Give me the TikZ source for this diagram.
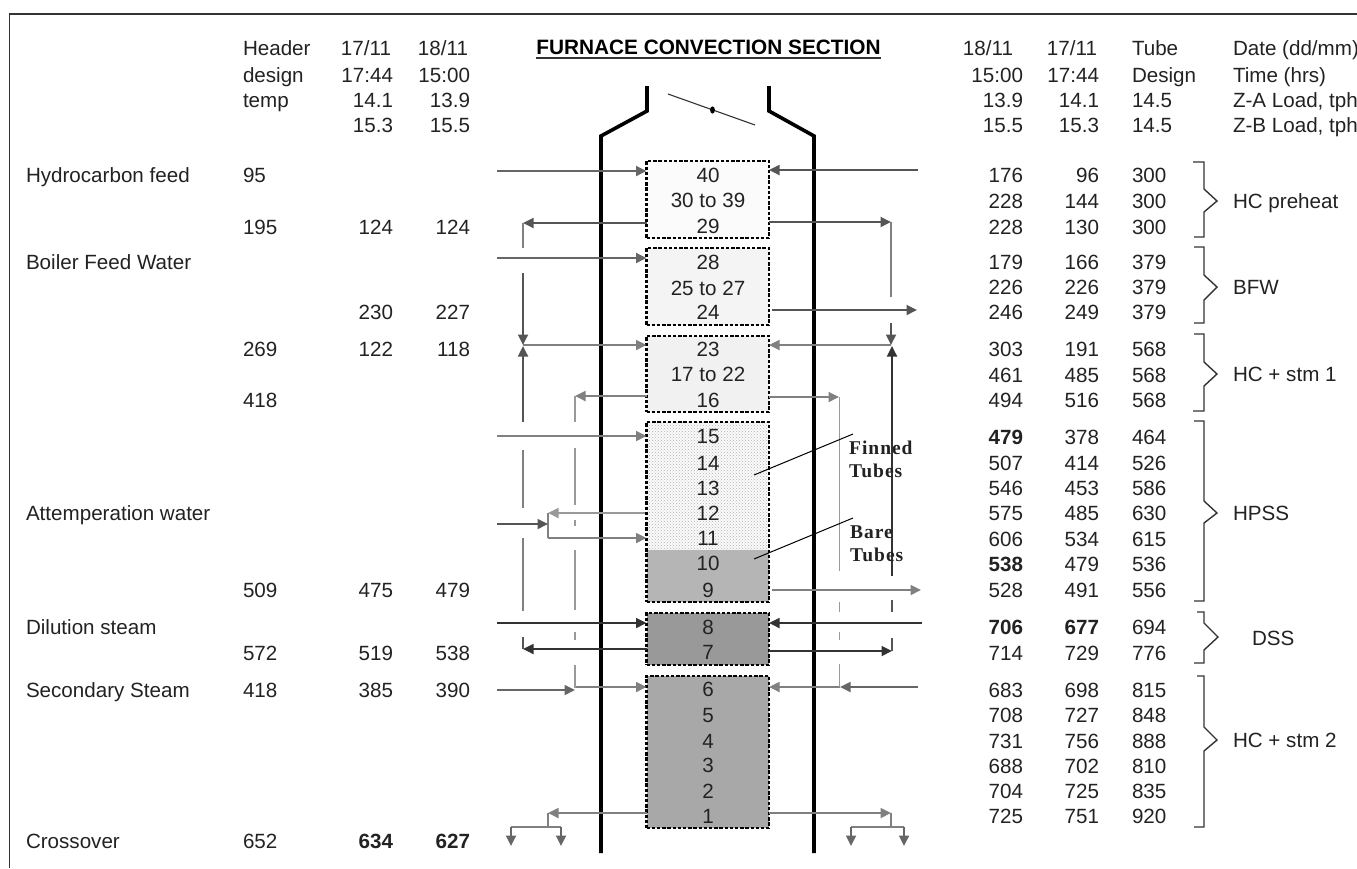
\documentclass[tikz,border=0pt]{standalone}
\usepackage{fontspec}
\setmainfont{Liberation Sans}
\newfontfamily\tubefont[LetterSpace=5]{Liberation Serif}
\usetikzlibrary{arrows.meta,patterns}
\definecolor{txt}{HTML}{222222}
\definecolor{gA}{HTML}{666666}
\definecolor{gB}{HTML}{555555}
\definecolor{gD}{HTML}{333333}
\definecolor{gL}{HTML}{808080}
\definecolor{gV}{HTML}{999999}
\tikzset{
  lbl/.style={font=\fontsize{20.6pt}{22pt}\selectfont,text=txt,inner sep=0pt,outer sep=0pt,yshift=-7.3pt},
  tl/.style={lbl,anchor=base west},
  tr/.style={lbl,anchor=base east},
  tc/.style={lbl,anchor=base},
  tubebox/.style={draw=black,line width=2.1pt,dash pattern=on 3.4pt off 1.8pt,minimum width=122.5pt,inner sep=0pt,outer sep=0pt},
  flow/.style={-{Triangle[length=10.5pt,width=10pt]},line width=1.8pt},
  pipe/.style={line width=1.8pt},
  wall/.style={line width=3.6pt,black,line join=miter},
  brc/.style={line width=1.4pt,draw=gD},
  note/.style={font=\tubefont\bfseries\fontsize{19.5pt}{20pt}\selectfont,text=txt,inner sep=0pt,anchor=base west,yshift=-6pt},
  leader/.style={line width=1pt,black}
}
\begin{document}
\begin{tikzpicture}[x=1pt,y=-1pt]
\useasboundingbox (0,0) rectangle (1357,868);
\clip (0,0) rectangle (1357,868);
% frame
\draw[line width=1.2pt,gD] (9.5,868) -- (9.5,14) -- (1357,14);
% title
\node[tc,font=\bfseries\fontsize{20.8pt}{22pt}\selectfont,text=black] (title) at (708.5,47) {FURNACE CONVECTION SECTION};
\draw[line width=2pt,gD] ([yshift=-4pt]title.base west) -- ([yshift=-4pt]title.base east);
% left labels
\foreach \y/\t in {175/Hydrocarbon feed,262/Boiler Feed Water,513/Attemperation water,627/Dilution steam,690/Secondary Steam,841/Crossover}
  \node[tl] (lab\y) at (26,\y) {\t};
% header column
\foreach \y/\t in {48/Header,75/design,100/temp,175/95,227/195,349/269,400/418,590/509,653/572,690/418,841/652}
  \node[tl] (hd\y) at (243,\y) {\t};
% left data columns
\node[tr] (la48) at (391,48) {17/11};
\node[tr] (lb48) at (468,48) {18/11};
\foreach \y/\a/\b in {75/17:44/15:00,100/14.1/13.9,125/15.3/15.5,227/124/124,312/230/227,349/122/118,590/475/479,653/519/538,690/385/390,841/{\bfseries 634}/{\bfseries 627}}{
  \node[tr] (la\y) at (393,\y) {\a};
  \node[tr] (lb\y) at (470,\y) {\b};
}
% right column heads
\node[tr] (ra48) at (1013,48) {18/11};
\node[tr] (rb48) at (1097,48) {17/11};
\node[tl] (rc48) at (1132,48) {Tube};
\node[tl] (rd48) at (1233,48) {Date (dd/mm)};
\node[tr] (ra75) at (1023,75) {15:00};
\node[tr] (rb75) at (1099,75) {17:44};
\node[tl] (rc75) at (1132,75) {Design};
\node[tl] (rd75) at (1233,75) {Time (hrs)};
\node[tr] (ra100) at (1023,100) {13.9};
\node[tr] (rb100) at (1099,100) {14.1};
\node[tl] (rc100) at (1132,100) {14.5};
\node[tl] (rd100) at (1233,100) {Z-A Load, tph};
\node[tr] (ra125) at (1023,125) {15.5};
\node[tr] (rb125) at (1099,125) {15.3};
\node[tl] (rc125) at (1132,125) {14.5};
\node[tl] (rd125) at (1233,125) {Z-B Load, tph};
% right data
\foreach \y/\a/\b/\c in {175/176/96/300,201/228/144/300,227/228/130/300,262/179/166/379,287/226/226/379,312/246/249/379,349/303/191/568,375/461/485/568,400/494/516/568,437/{\bfseries 479}/378/464,463/507/414/526,488/546/453/586,513/575/485/630,539/606/534/615,564/{\bfseries 538}/479/536,590/528/491/556,627/{\bfseries 706}/{\bfseries 677}/694,653/714/729/776,690/683/698/815,715/708/727/848,741/731/756/888,766/688/702/810,791/704/725/835,816/725/751/920}{
  \node[tr] (ra\y) at (1023,\y) {\a};
  \node[tr] (rb\y) at (1099,\y) {\b};
  \node[tl] (rc\y) at (1132,\y) {\c};
}
% group labels
\node[tl] (g1) at (1233,201) {HC preheat};
\node[tl] (g2) at (1233,287) {BFW};
\node[tl] (g3) at (1233,374) {HC + stm 1};
\node[tl] (g4) at (1233,513) {HPSS};
\node[tl] (g5) at (1252,638) {DSS};
\node[tl] (g6) at (1233,740) {HC + stm 2};
% braces
\draw[brc] (1193,162) -- (1204,162) -- (1204,189) -- (1217,201) -- (1204,212) -- (1204,237) -- (1194,237);
\draw[brc] (1194,247) -- (1204,247) -- (1204,275) -- (1217,287) -- (1204,300) -- (1204,323) -- (1194,323);
\draw[brc] (1194,334) -- (1204,334) -- (1204,362) -- (1217,374) -- (1204,386) -- (1204,411) -- (1193,411);
\draw[brc] (1194,421) -- (1204,421) -- (1204,501) -- (1217,513) -- (1204,523) -- (1204,601) -- (1194,601);
\draw[brc] (1197,612) -- (1204,612) -- (1204,623) -- (1218,637) -- (1204,650) -- (1204,663) -- (1194,663);
\draw[brc] (1197,676) -- (1204,676) -- (1204,727) -- (1217,740) -- (1204,751) -- (1204,827) -- (1194,827);
% furnace walls
\draw[wall] (601,853) -- (601,136) -- (647,111) -- (647,86);
\draw[wall] (814,853) -- (814,136) -- (769,111) -- (769,86);
% damper
\coordinate (damperA) at (668,94);
\coordinate (damperB) at (755,125);
\draw[line width=1.1pt,gD] (damperA) -- (damperB);
\fill[black] (712.5,110) ellipse (2.4pt and 3.6pt);
% tube bank fills
\fill[gray!3] (646.5,422) rectangle (769,550);
\fill[pattern=crosshatch dots,pattern color=black!30] (646.5,422) rectangle (769,550);
\fill[black!29] (646.5,550) rectangle (769,602);
% tube banks
\node[tubebox,fill=black!1.5,minimum height=77pt] (b1) at (707.75,199.5) {};
\node[tubebox,fill=black!4.5,minimum height=77pt] (b2) at (707.75,286.5) {};
\node[tubebox,fill=black!5.5,minimum height=76pt] (b3) at (707.75,374) {};
\node[tubebox,minimum height=180pt] (b4) at (707.75,512) {};
\node[tubebox,fill=black!40,minimum height=52pt] (b5) at (707.75,639) {};
\node[tubebox,fill=black!34,minimum height=152pt] (b6) at (707.75,752) {};
% tube numbers
\foreach \y/\t in {175/40,200/30 to 39,226/29,262/28,288/25 to 27,312/24,349/23,374/17 to 22,400/16,436/15,463/14,488/13,513/12,538/11,563/10,590/9,627/8,652/7,689/6,715/5,741/4,765/3,791/2,816/1}
  \node[tc] (t\y) at (708,\y) {\t};
% free ends
\coordinate (hcIn) at (497,171);
\coordinate (hcInR) at (918,170);
\coordinate (bfwIn) at (497,258);
\coordinate (bfwOut) at (917,310);
\coordinate (c29L) at (523,223);
\coordinate (c29R) at (891,222);
\coordinate (c23L) at (523,345);
\coordinate (c23R) at (891,345);
\coordinate (c16L) at (575,396);
\coordinate (c16R) at (839,397);
\coordinate (s15In) at (497,436);
\coordinate (c12) at (548,513);
\coordinate (c11) at (548,538);
\coordinate (attIn) at (497,524);
\coordinate (attJ) at (548,524);
\coordinate (hpOut) at (921,590);
\coordinate (dsIn) at (497,623);
\coordinate (dsInR) at (922,623);
\coordinate (c7L) at (523,649);
\coordinate (c7R) at (892,651);
\coordinate (secIn) at (497,690);
\coordinate (secJ) at (575,687);
\coordinate (secInR) at (918,687);
\coordinate (secJR) at (840,687);
\coordinate (c1L) at (548,813);
\coordinate (c1R) at (891,813);
\coordinate (xL) at (548,827);
\coordinate (xLa) at (511,827);
\coordinate (xLb) at (561,827);
\coordinate (xLa2) at (511,846);
\coordinate (xLb2) at (561,846);
\coordinate (xR) at (891,827);
\coordinate (xRa) at (851,827);
\coordinate (xRb) at (904,827);
\coordinate (xRa2) at (851,846);
\coordinate (xRb2) at (904,846);
% horizontal flows
\draw[flow,gA] (hcIn) -- (hcIn -| b1.west);
\draw[flow,gB] (hcInR) -- (hcInR -| b1.east);
\draw[flow,gB] (c29L -| b1.west) -- (c29L);
\draw[flow,gB] (c29R -| b1.east) -- (c29R);
\draw[flow,gA] (bfwIn) -- (bfwIn -| b2.west);
\draw[flow,gB] ([xshift=3pt]bfwOut -| b2.east) -- (bfwOut);
\draw[flow,gL] (c23L) -- (c23L -| b3.west);
\draw[flow,gL] (c23R) -- (c23R -| b3.east);
\draw[flow,gL] (c16L -| b3.west) -- (c16L);
\draw[flow,gL] (c16R -| b3.east) -- (c16R);
\draw[flow,gL] (s15In) -- (s15In -| b4.west);
\draw[flow,gV] ([xshift=-2pt]c12 -| b4.west) -- (c12);
\draw[flow,gL] (c11) -- (c11 -| b4.west);
\draw[pipe,gL] (c12) -- (c11);
\draw[flow,gB] (attIn) -- (attJ);
\draw[flow,gL] ([xshift=3pt]hpOut -| b4.east) -- (hpOut);
\draw[flow,gD] (dsIn) -- (dsIn -| b5.west);
\draw[flow,gD] (dsInR) -- (dsInR -| b5.east);
\draw[flow,gD] (c7L -| b5.west) -- (c7L);
\draw[flow,gD] (c7R -| b5.east) -- (c7R);
\draw[flow,gA] (secIn) -- (secIn -| secJ);
\draw[flow,gL] (secJ) -- (secJ -| b6.west);
\draw[flow,gA] (secInR) -- (secJR);
\draw[flow,gL] (secJR) -- (secJR -| b6.east);
\draw[flow,gL] (c1L -| b6.west) -- (c1L);
\draw[flow,gL] (c1R -| b6.east) -- (c1R);
% vertical flows
\draw[flow,gB] (523,273) -- (c23L);
\draw[flow,gB] (891,323) -- (c23R);
\draw[flow,gB] (523,422) -- (523,346);
\draw[flow,gD] (892,576) -- (892,346);
% vertical broken pipes
\draw[pipe,gL] (c29L) -- (523,248);
\foreach \a/\b in {450/508,538/611}
  \draw[pipe,gL] (523,\a) -- (523,\b);
\draw[pipe,gB] (523,637) -- (c7L);
\draw[pipe,gL] (c29R) -- (891,297);
\draw[pipe,gB] (892,600) -- (892,612);
\draw[pipe,gB] (892,638) -- (c7R);
\foreach \a/\b in {396/422,448/505,520/526,550/610,632/640,665/688}
  \draw[pipe,gV] (575,\a) -- (575,\b);
\foreach \a/\b in {397/571,602/612,632/640,664/687}
  \draw[pipe,gV] (839.5,\a) -- (839.5,\b);
% crossover outlets
\draw[pipe,gL] (c1L) -- (xL);
\draw[pipe,gL] (xLa) -- (xLb);
\draw[flow,gA] (xLa) -- (xLa2);
\draw[flow,gA] (xLb) -- (xLb2);
\draw[pipe,gL] (c1R) -- (xR);
\draw[pipe,gL] (xRa) -- (xRb);
\draw[flow,gA] (xRa) -- (xRa2);
\draw[flow,gA] (xRb) -- (xRb2);
% tube type notes
\coordinate (finA) at (754,475);
\coordinate (finB) at (853,434);
\coordinate (barA) at (754,559);
\coordinate (barB) at (853,518);
\draw[leader] (finA) -- (finB);
\draw[leader] (barA) -- (barB);
\node[note] (n1) at (849,448) {Finned};
\node[note] (n2) at (849,471) {Tubes};
\node[note] (n3) at (850,532) {Bare};
\node[note] (n4) at (850,555) {Tubes};
\end{tikzpicture}
\end{document}
